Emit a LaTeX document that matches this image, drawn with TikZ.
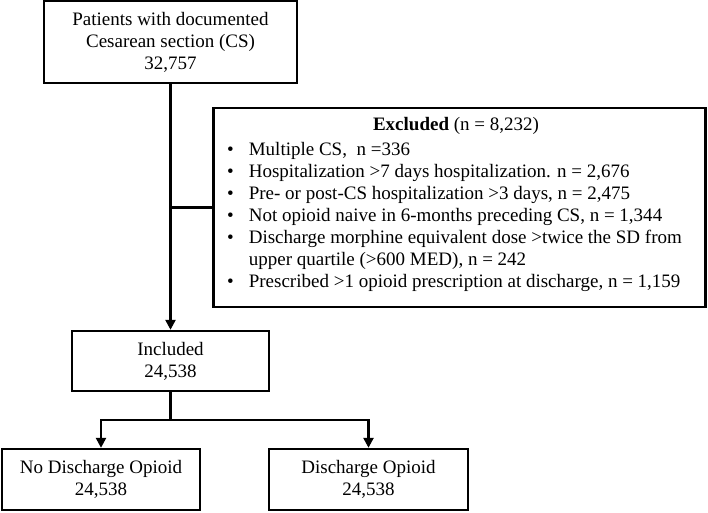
\documentclass[tikz,border=0pt]{standalone}
\usepackage{fontspec}
\setmainfont{Liberation Serif}
\usetikzlibrary{arrows.meta}
\tikzset{
  box/.style={draw, line width=2.4pt, inner sep=0pt, align=center, font=\fontsize{19}{22}\selectfont},
  conn/.style={line width=2.4pt},
  arr/.style={line width=2.4pt, -{Triangle[length=10pt,width=10pt]}},
}
\begin{document}
\begin{tikzpicture}[x=1pt,y=-1pt]
\useasboundingbox (0,0) rectangle (708,512);
\node[box, minimum width=253pt, minimum height=82pt] (top) at (170.5,42)
  {Patients with documented\\Cesarean section (CS)\\32,757};
\node[box, minimum width=492pt, minimum height=199pt] (excl) at (459.5,207.5) {};
\node[inner sep=0pt, font=\fontsize{19}{22}\selectfont] (title) at (456,126) {\textbf{Excluded} (n = 8,232)};
\node[inner sep=0pt, anchor=west, font=\fontsize{19}{22}\selectfont] (list) at (227,217) {%
\begin{tabular}{@{}l@{\hspace{15pt}}l@{}}
\textbullet & Multiple CS,\ \ n =336\\
\textbullet & Hospitalization >7 days hospitalization. n = 2,676\\
\textbullet & Pre- or post-CS hospitalization >3 days, n = 2,475\\
\textbullet & Not opioid naive in 6-months preceding CS, n = 1,344\\
\textbullet & Discharge morphine equivalent dose >twice the SD from\\
 & upper quartile (>600 MED), n = 242\\
\textbullet & Prescribed >1 opioid prescription at discharge, n = 1,159
\end{tabular}};
\node[box, minimum width=197pt, minimum height=60pt] (incl) at (170.5,361) {Included\\24,538};
\node[box, minimum width=198pt, minimum height=61pt] (left) at (101,479.5) {No Discharge Opioid\\24,538};
\node[box, minimum width=199pt, minimum height=61pt] (right) at (368.5,479.5) {Discharge Opioid\\24,538};
\draw[arr] (top.south) -- (incl.north);
\coordinate (branch) at (top.south |- excl.west);
\draw[conn] (branch) -- (excl.west);
\draw[conn] (incl.south) -- ++(0,28) coordinate (split);
\draw[arr] (split) -| (left.north);
\draw[arr] (split) -| (right.north);
\end{tikzpicture}
\end{document}
